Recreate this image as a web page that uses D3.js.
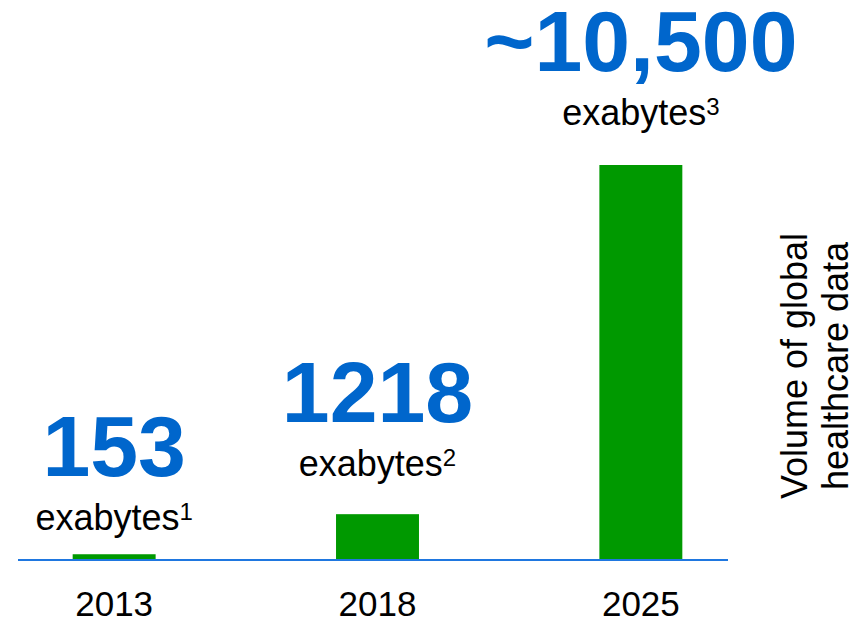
<!DOCTYPE html>
<html>
<head>
<meta charset="utf-8">
<script src="https://cdn.jsdelivr.net/npm/d3@7"></script>
<style>
  body { margin: 0; background: #fff; }
  text { font-family: "Liberation Sans", Arial, sans-serif; }
</style>
</head>
<body>
<div id="viz"></div>
<script>
var years = ["2013", "2018", "2025"];
var volumes = [153, 1218, 10500];
var bigLabels = ["153", "1218", "~10,500"];
var footnotes = ["1", "2", "3"];
var unitLabel = "exabytes";
var titleLines = ["Volume of global", "healthcare data"];

// gap between bar top and the "exabytes" line (hand placed in the original)
var labelGap = {"2013": 24, "2018": 38, "2025": 40};

var width = 862,
    height = 622,
    baseY = 560,
    topY = 165;

var svg = d3.select('#viz')
  .append("svg")
  .attr("width", width)
  .attr("height", height);

var xScale = d3.scaleBand()
  .domain(years)
  .range([20, 735])
  .paddingInner(0.685)
  .paddingOuter(0.2);

var yScale = d3.scaleLinear()
  .domain([0, d3.max(volumes)])
  .range([baseY, topY]);

var rows = years.map((yr, i) => ({year: yr, value: volumes[i], big: bigLabels[i], note: footnotes[i]}));

/* bars */
svg.selectAll(".bar")
  .data(rows)
  .enter().append("rect")
  .attr("class", "bar")
  .attr("x", d => xScale(d.year))
  .attr("y", d => yScale(d.value))
  .attr("width", xScale.bandwidth())
  .attr("height", d => baseY - yScale(d.value))
  .style("fill", "#009900");

/* baseline */
svg.append("line")
  .attr("x1", 18)
  .attr("x2", 728)
  .attr("y1", baseY)
  .attr("y2", baseY)
  .style("stroke", "#1f77e0")
  .style("stroke-width", 2);

/* year labels */
var xAxis = d3.axisBottom(xScale).tickSize(0).tickPadding(31);
var gx = svg.append("g")
  .attr("transform", `translate(0,${baseY})`)
  .call(xAxis);
gx.select(".domain").remove();
gx.selectAll("text")
  .attr("dy", "0.71em")
  .style("font-size", "35px")
  .style("font-family", "'Liberation Sans', Arial, sans-serif")
  .style("fill", "#000");

/* value labels */
var lab = svg.selectAll(".lab")
  .data(rows)
  .enter().append("g")
  .attr("class", "lab")
  .attr("transform", d => `translate(${xScale(d.year) + xScale.bandwidth() / 2},${yScale(d.value) - labelGap[d.year]})`);

lab.append("text")
  .attr("y", -54)
  .attr("text-anchor", "middle")
  .style("font-size", "86px")
  .style("font-weight", "bold")
  .style("fill", "#0066cc")
  .text(d => d.big);

var unit = lab.append("text")
  .attr("text-anchor", "middle")
  .style("font-size", "36px")
  .style("fill", "#000");
unit.append("tspan").text(unitLabel);
unit.append("tspan")
  .attr("dy", -10)
  .style("font-size", "24px")
  .text(d => d.note);

/* side title */
var title = svg.append("text")
  .attr("transform", "translate(807,366) rotate(-90)")
  .attr("text-anchor", "middle")
  .style("font-size", "36px")
  .style("fill", "#000");
title.selectAll("tspan")
  .data(titleLines)
  .enter().append("tspan")
  .attr("x", 0)
  .attr("dy", (d, i) => i ? 41 : 0)
  .text(d => d);
</script>
</body>
</html>
